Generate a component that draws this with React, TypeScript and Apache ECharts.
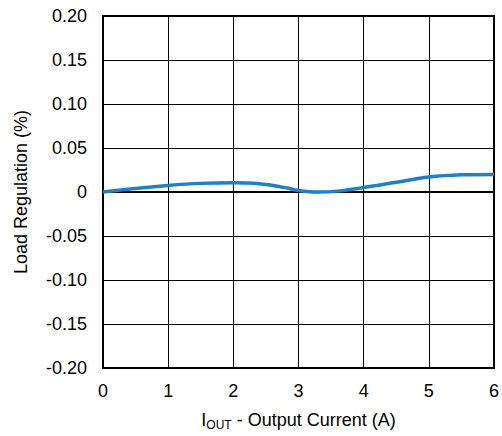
import React, { useEffect, useRef } from "react";
import * as echarts from "echarts";

const currentA = [0, 0.5, 1, 1.5, 2, 2.4, 2.8, 3, 3.3, 3.6, 4, 4.5, 5, 5.5, 6];
const regulationPct = [0, 0.004, 0.0075, 0.0098, 0.0105, 0.0095, 0.005, 0.0018, 0, 0.001, 0.005, 0.011, 0.017, 0.0195, 0.02];
const yTicks = ["-0.20", "-0.15", "-0.10", "-0.05", "0", "0.05", "0.10", "0.15", "0.20"];

export default function App() {
  const ref = useRef<HTMLDivElement>(null);
  useEffect(() => {
    const chart = echarts.init(ref.current!, null, { renderer: "svg" });
    const font = "'Liberation Sans', Arial, sans-serif";
    chart.setOption({
      animation: false,
      backgroundColor: "#ffffff",
      grid: { left: 103, right: 5, top: 16, bottom: 64, show: true, borderColor: "#000", borderWidth: 2, backgroundColor: "transparent" },
      xAxis: {
        type: "value",
        min: 0,
        max: 6,
        interval: 1,
        name: "I{sub|OUT} - Output Current (A)",
        nameLocation: "middle",
        nameGap: 41,
        nameTextStyle: {
          fontFamily: font,
          fontSize: 18,
          color: "#000",
          rich: {
            sub: { fontFamily: font, fontSize: 12, color: "#000", verticalAlign: "bottom", padding: [10, 0, 0, 0] },
          },
        },
        axisLine: { show: true, lineStyle: { color: "#000", width: 2 } },
        axisTick: { show: false },
        axisLabel: { fontFamily: font, fontSize: 18, color: "#000", margin: 14 },
        splitLine: { show: true, lineStyle: { color: "#000", width: 1 } },
      },
      yAxis: {
        type: "value",
        min: -0.2,
        max: 0.2,
        interval: 0.05,
        name: "Load Regulation (%)",
        nameLocation: "middle",
        nameGap: 73,
        nameTextStyle: { fontFamily: font, fontSize: 18, color: "#000" },
        axisLine: { show: true, lineStyle: { color: "#000", width: 2 } },
        axisTick: { show: false },
        axisLabel: {
          fontFamily: font,
          fontSize: 18,
          color: "#000",
          margin: 16,
          formatter: (v: number) => {
            const idx = Math.round((v + 0.2) / 0.05);
            return yTicks[idx] ?? String(v);
          },
        },
        splitLine: { show: true, lineStyle: { color: "#000", width: 1 } },
      },
      series: [
        {
          type: "line",
          data: currentA.map((x, i) => [x, regulationPct[i]]),
          smooth: 0.4,
          showSymbol: false,
          lineStyle: { color: "#1f80c6", width: 3.5 },
        },
      ],
    });
    return () => chart.dispose();
  }, []);
  return <div ref={ref} style={{ position: "fixed", left: 0, top: 0, width: 502, height: 436 }} />;
}
